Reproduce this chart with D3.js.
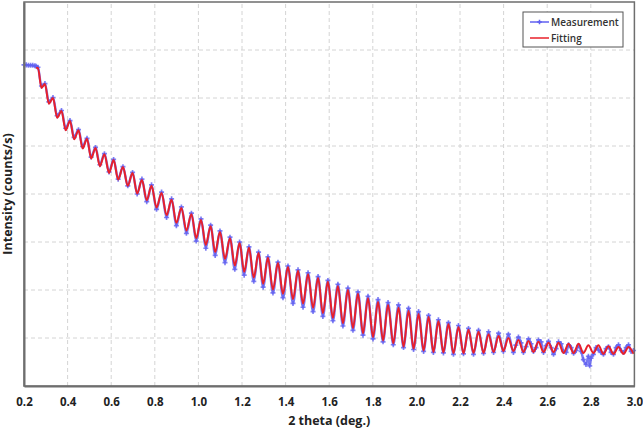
<!DOCTYPE html>
<html><head><meta charset="utf-8">
<script src="https://cdn.jsdelivr.net/npm/d3@7"></script>
<style>
html,body{margin:0;padding:0;background:#fff;}
svg{display:block;font-family:"Open Sans",sans-serif;}
</style></head>
<body><svg id="chart" width="643" height="434"></svg>
<script>
// ---- data (2 theta in deg., intensity as log10 counts/s) ----
const xTickValues = [0.2,0.4,0.6,0.8,1.0,1.2,1.4,1.6,1.8,2.0,2.2,2.4,2.6,2.8,3.0];
const yGridDecades = [0,1,2,3,4,5,6,7,8];

const fitPeakX = [0.264,0.296,0.333,0.372,0.411,0.450,0.489,0.528,0.569,0.611,0.654,0.698,0.741,0.785,0.831,0.877,0.922,0.968,1.012,1.056,1.099,1.145,1.189,1.232,1.276,1.319,1.365,1.411,1.457,1.503,1.549,1.594,1.640,1.686,1.732,1.778,1.824,1.870,1.918,1.964,2.010,2.056,2.101,2.147,2.193,2.239,2.285,2.331,2.377,2.422,2.468,2.514,2.560,2.606,2.652,2.698,2.744,2.789,2.835,2.881,2.927,2.973];
const fitPeakY = [6.63,6.29,6.00,5.73,5.52,5.33,5.15,4.96,4.83,4.71,4.56,4.44,4.29,4.17,4.02,3.88,3.71,3.58,3.46,3.33,3.21,3.08,2.98,2.88,2.77,2.67,2.56,2.48,2.40,2.33,2.25,2.17,2.08,2.00,1.92,1.83,1.75,1.69,1.63,1.56,1.50,1.44,1.35,1.29,1.23,1.17,1.13,1.08,1.04,1.00,0.96,0.94,0.92,0.90,0.90,0.88,0.88,0.85,0.85,0.83,0.81,0.81];
const fitValleyX = [0.280,0.314,0.352,0.391,0.430,0.469,0.508,0.548,0.590,0.632,0.676,0.719,0.763,0.808,0.854,0.899,0.945,0.990,1.034,1.077,1.122,1.167,1.210,1.254,1.297,1.342,1.388,1.434,1.480,1.526,1.571,1.617,1.663,1.709,1.755,1.801,1.847,1.894,1.941,1.987,2.033,2.078,2.124,2.170,2.216,2.262,2.308,2.354,2.399,2.445,2.491,2.537,2.583,2.629,2.675,2.721,2.766,2.812,2.858,2.904,2.950,2.996];
const fitValleyY = [6.21,5.88,5.59,5.33,5.14,4.95,4.74,4.58,4.44,4.30,4.17,4.01,3.87,3.72,3.56,3.40,3.24,3.08,2.94,2.79,2.65,2.51,2.38,2.26,2.13,2.01,1.92,1.81,1.72,1.63,1.52,1.42,1.31,1.21,1.10,1.02,0.95,0.89,0.82,0.78,0.74,0.71,0.70,0.68,0.68,0.69,0.69,0.71,0.73,0.73,0.71,0.71,0.71,0.71,0.69,0.69,0.69,0.69,0.67,0.67,0.67,0.67];
const fitStart = [0.256, 6.62];

const measX = [0.200,0.210,0.220,0.230,0.240,0.250,0.256,
0.264,0.280,0.296,0.314,0.333,0.352,0.372,0.391,0.411,0.430,0.450,0.469,0.489,0.508,0.528,0.548,0.569,0.590,0.611,0.632,0.654,0.676,0.698,0.719,0.741,0.763,0.785,0.808,0.831,0.854,0.877,0.899,0.922,0.945,0.968,0.990,1.012,1.034,1.056,1.077,1.099,1.122,1.145,1.167,1.189,1.210,1.232,1.254,1.276,1.297,1.319,1.342,1.365,1.388,1.411,1.434,1.457,1.480,1.503,1.526,1.549,1.571,1.594,1.617,1.640,1.663,1.686,1.709,1.732,1.755,1.778,1.801,1.824,1.847,1.870,1.894,1.918,1.941,1.964,1.987,2.010,2.033,2.056,2.078,2.101,2.124,2.147,2.170,2.193,2.216,2.239,2.262,2.285,2.308,2.331,2.354,2.377,2.399,2.422,2.445,
2.456,2.468,2.480,2.491,2.503,2.514,2.526,2.537,2.549,2.560,2.572,2.583,2.595,2.606,2.618,2.629,2.641,2.652,2.664,2.675,2.687,2.698,2.710,2.721,2.733,2.744,2.756,2.766,2.778,2.789,2.795,2.801,2.812,2.824,2.835,2.847,2.858,2.870,2.881,2.893,2.904,2.916,2.927,2.939,2.950,2.962,2.973,2.985,2.996];
const measY = [6.69,6.69,6.68,6.68,6.68,6.67,6.66,
6.64,6.25,6.30,5.92,6.01,5.63,5.74,5.37,5.53,5.18,5.34,4.99,5.16,4.77,4.97,4.61,4.84,4.46,4.72,4.31,4.57,4.17,4.45,4.00,4.31,3.84,4.19,3.68,4.04,3.51,3.90,3.34,3.73,3.18,3.60,3.02,3.48,2.87,3.35,2.72,3.23,2.57,3.10,2.43,3.00,2.31,2.90,2.18,2.79,2.06,2.69,1.94,2.58,1.84,2.50,1.72,2.42,1.64,2.36,1.55,2.28,1.45,2.20,1.36,2.12,1.25,2.04,1.16,1.96,1.06,1.87,0.98,1.80,0.92,1.74,0.86,1.69,0.80,1.62,0.76,1.55,0.72,1.47,0.70,1.38,0.69,1.32,0.66,1.26,0.67,1.20,0.66,1.16,0.68,1.13,0.70,1.10,0.72,1.08,0.70,
0.85,1.02,0.90,0.70,0.82,0.98,0.88,0.72,0.80,0.96,0.92,0.70,0.84,0.93,0.80,0.66,0.78,0.92,0.88,0.72,0.70,0.86,0.80,0.68,0.74,0.84,0.72,0.55,0.45,0.62,0.42,0.58,0.66,0.80,0.75,0.70,0.66,0.78,0.82,0.70,0.66,0.80,0.86,0.74,0.70,0.80,0.86,0.72,0.74];

const seriesNames = ["Measurement","Fitting"];
const xTitle = "2 theta (deg.)";
const yTitle = "Intensity (counts/s)";

// ---- build ----
const fitData = [fitStart];
fitPeakX.forEach((x,i)=>{ fitData.push([x,fitPeakY[i]]); fitData.push([fitValleyX[i],fitValleyY[i]]); });
const measData = measX.map((x,i)=>[x,measY[i]]);

const svg = d3.select("#chart");
const m = {l:24, t:2, r:8.6, b:48};
const W = 643, H = 434;
const x = d3.scaleLinear().domain([0.2,3.0]).range([m.l, W-m.r]);
const y = d3.scaleLinear().domain([0,8]).range([H-m.b, m.t]);

const grid = svg.append("g");
grid.selectAll(".vg").data(xTickValues.slice(1,-1)).join("line")
  .attr("x1",d=>x(d)).attr("x2",d=>x(d)).attr("y1",y(0)).attr("y2",y(8))
  .attr("stroke","#d4d4d4").attr("stroke-width",1).attr("stroke-dasharray","4,3");
grid.selectAll(".hg").data(yGridDecades.slice(1,-1)).join("line")
  .attr("y1",d=>y(d)).attr("y2",d=>y(d)).attr("x1",x(0.2)).attr("x2",x(3.0))
  .attr("stroke","#d4d4d4").attr("stroke-width",1).attr("stroke-dasharray","4,3");

const line = d3.line().x(d=>x(d[0])).y(d=>y(d[1])).curve(d3.curveMonotoneX);
const blue = "#6060f0", red = "#e8202a";

svg.append("path").datum(measData).attr("d",line)
  .attr("fill","none").attr("stroke",blue).attr("stroke-width",2.4).attr("opacity",0.85);
svg.append("g").selectAll("path").data(measData).join("path")
  .attr("transform",d=>`translate(${x(d[0])},${y(d[1])})`)
  .attr("d", d3.symbol().type(d3.symbolCross).size(14))
  .attr("fill",blue).attr("opacity",0.8);

svg.append("path").datum(fitData).attr("d",line)
  .attr("fill","none").attr("stroke",red).attr("stroke-width",2);

// frame and axes
svg.append("rect").attr("x",x(0.2)).attr("y",y(8)).attr("width",x(3.0)-x(0.2)).attr("height",y(0)-y(8))
  .attr("fill","none").attr("stroke","#6e6e6e").attr("stroke-width",1.5);
const xAxis = d3.axisBottom(x).tickValues(xTickValues).tickFormat(d3.format(".1f")).tickSize(0).tickPadding(12);
const gx = svg.append("g").attr("transform",`translate(0,${y(0)})`).call(xAxis);
gx.select(".domain").attr("stroke","#6e6e6e").attr("stroke-width",2);
gx.selectAll("text").attr("font-size","11.5px").attr("font-weight","bold").attr("fill","#222")
  .attr("font-family","'Open Sans',sans-serif");
const yAxis = d3.axisLeft(y).tickValues([]).tickSize(0);
const gy = svg.append("g").attr("transform",`translate(${x(0.2)},0)`).call(yAxis);
gy.select(".domain").attr("stroke","#6e6e6e").attr("stroke-width",2);

svg.append("text").attr("x",(x(0.2)+x(3.0))/2).attr("y",425).attr("text-anchor","middle")
  .attr("font-size","12.5px").attr("font-weight","bold").attr("fill","#222").text(xTitle);
svg.append("text").attr("transform",`translate(12,${(y(0)+y(8))/2}) rotate(-90)`).attr("text-anchor","middle")
  .attr("font-size","12.5px").attr("font-weight","bold").attr("fill","#222").text(yTitle);

// legend
const lg = svg.append("g");
lg.append("rect").attr("x",523).attr("y",12).attr("width",100).attr("height",35)
  .attr("fill","#fff").attr("stroke","#555").attr("stroke-width",1);
const ly = [22,38], lc = [blue, red];
seriesNames.forEach((n,i)=>{
  lg.append("line").attr("x1",530).attr("x2",549).attr("y1",ly[i]).attr("y2",ly[i])
    .attr("stroke",lc[i]).attr("stroke-width",1.5);
  if(i===0) lg.append("path").attr("transform",`translate(539.5,${ly[i]})`)
    .attr("d",d3.symbol().type(d3.symbolCross).size(12)).attr("fill",blue);
  lg.append("text").attr("x",551).attr("y",ly[i]+3.5).attr("font-size","10px").attr("font-weight","600").attr("fill","#333").text(n);
});
</script></body></html>
